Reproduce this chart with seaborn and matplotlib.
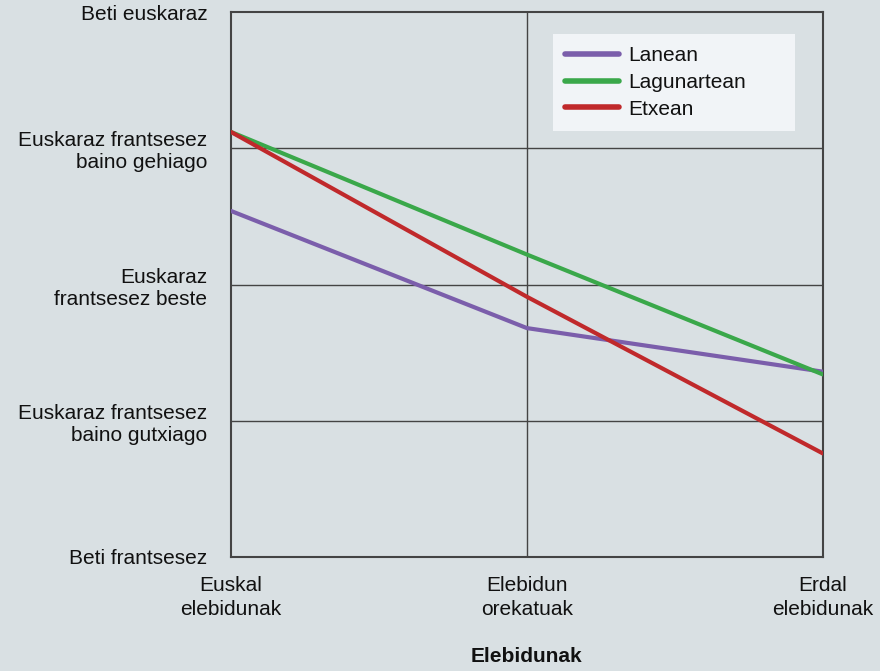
import pandas as pd
import numpy as np
import seaborn as sns
import matplotlib.pyplot as plt

groups = ['Euskal\nelebidunak', 'Elebidun\norekatuak', 'Erdal\nelebidunak']
lanean = [3.54, 2.68, 2.36]
lagunartean = [4.12, 3.22, 2.34]
etxean = [4.12, 2.91, 1.76]
series = ['Lanean', 'Lagunartean', 'Etxean']
ylabels = ['Beti frantsesez', 'Euskaraz frantsesez\nbaino gutxiago', 'Euskaraz\nfrantsesez beste',
           'Euskaraz frantsesez\nbaino gehiago', 'Beti euskaraz']

bg = '#d9e0e3'
ink = '#111111'
sns.set_style('white', {'axes.facecolor': bg, 'figure.facecolor': bg,
                        'text.color': ink, 'xtick.color': ink, 'ytick.color': ink,
                        'axes.labelcolor': ink})
plt.rcParams['font.family'] = ['Liberation Sans', 'DejaVu Sans']

df = pd.DataFrame({
    'x': list(range(len(groups))) * 3,
    'value': lanean + lagunartean + etxean,
    'serie': [s for s in series for _ in groups],
})

fig = plt.figure(figsize=(8.8, 6.71), dpi=100)
ax = fig.add_axes([0.2625, 0.170, 0.6725, 0.812])

palette = {'Lanean': '#7b5eab', 'Lagunartean': '#3aa84a', 'Etxean': '#c0292b'}
sns.lineplot(data=df, x='x', y='value', hue='serie', hue_order=series, palette=palette,
             linewidth=3, ax=ax, zorder=3)

ax.set_xlim(0, 2)
ax.set_ylim(1, 5)
ax.set_yticks([1, 2, 3, 4, 5])
ax.set_yticklabels(ylabels, fontsize=15, linespacing=1.2)
ax.set_xticks([0, 1, 2])
ax.set_xticklabels(groups, fontsize=15, linespacing=1.3)
ax.tick_params(axis='y', length=0, pad=17)
ax.tick_params(axis='x', length=0, pad=14)
ax.set_xlabel('Elebidunak', fontsize=15, fontweight='bold', labelpad=20)
ax.set_ylabel('')

for y in [2, 3, 4]:
    ax.axhline(y, color='#444444', linewidth=1, zorder=1)
ax.axvline(1, color='#444444', linewidth=1, zorder=1)
for s in ax.spines.values():
    s.set_color('#444444')
    s.set_linewidth(1.5)
    s.set_visible(True)

handles, labels = ax.get_legend_handles_labels()
for h in handles:
    h.set_linewidth(4)
leg = ax.legend(handles, labels, loc='upper left', bbox_to_anchor=(0.544, 0.79, 0.409, 0.17),
                mode='expand', fontsize=15, frameon=True, fancybox=False, handlelength=2.55,
                labelspacing=0.37, borderpad=0.6, handletextpad=0.45, borderaxespad=0)
leg.get_frame().set_facecolor('#f1f4f7')
leg.get_frame().set_edgecolor('none')
leg.get_frame().set_alpha(1)

plt.savefig('out.png', dpi=100, facecolor=bg)
